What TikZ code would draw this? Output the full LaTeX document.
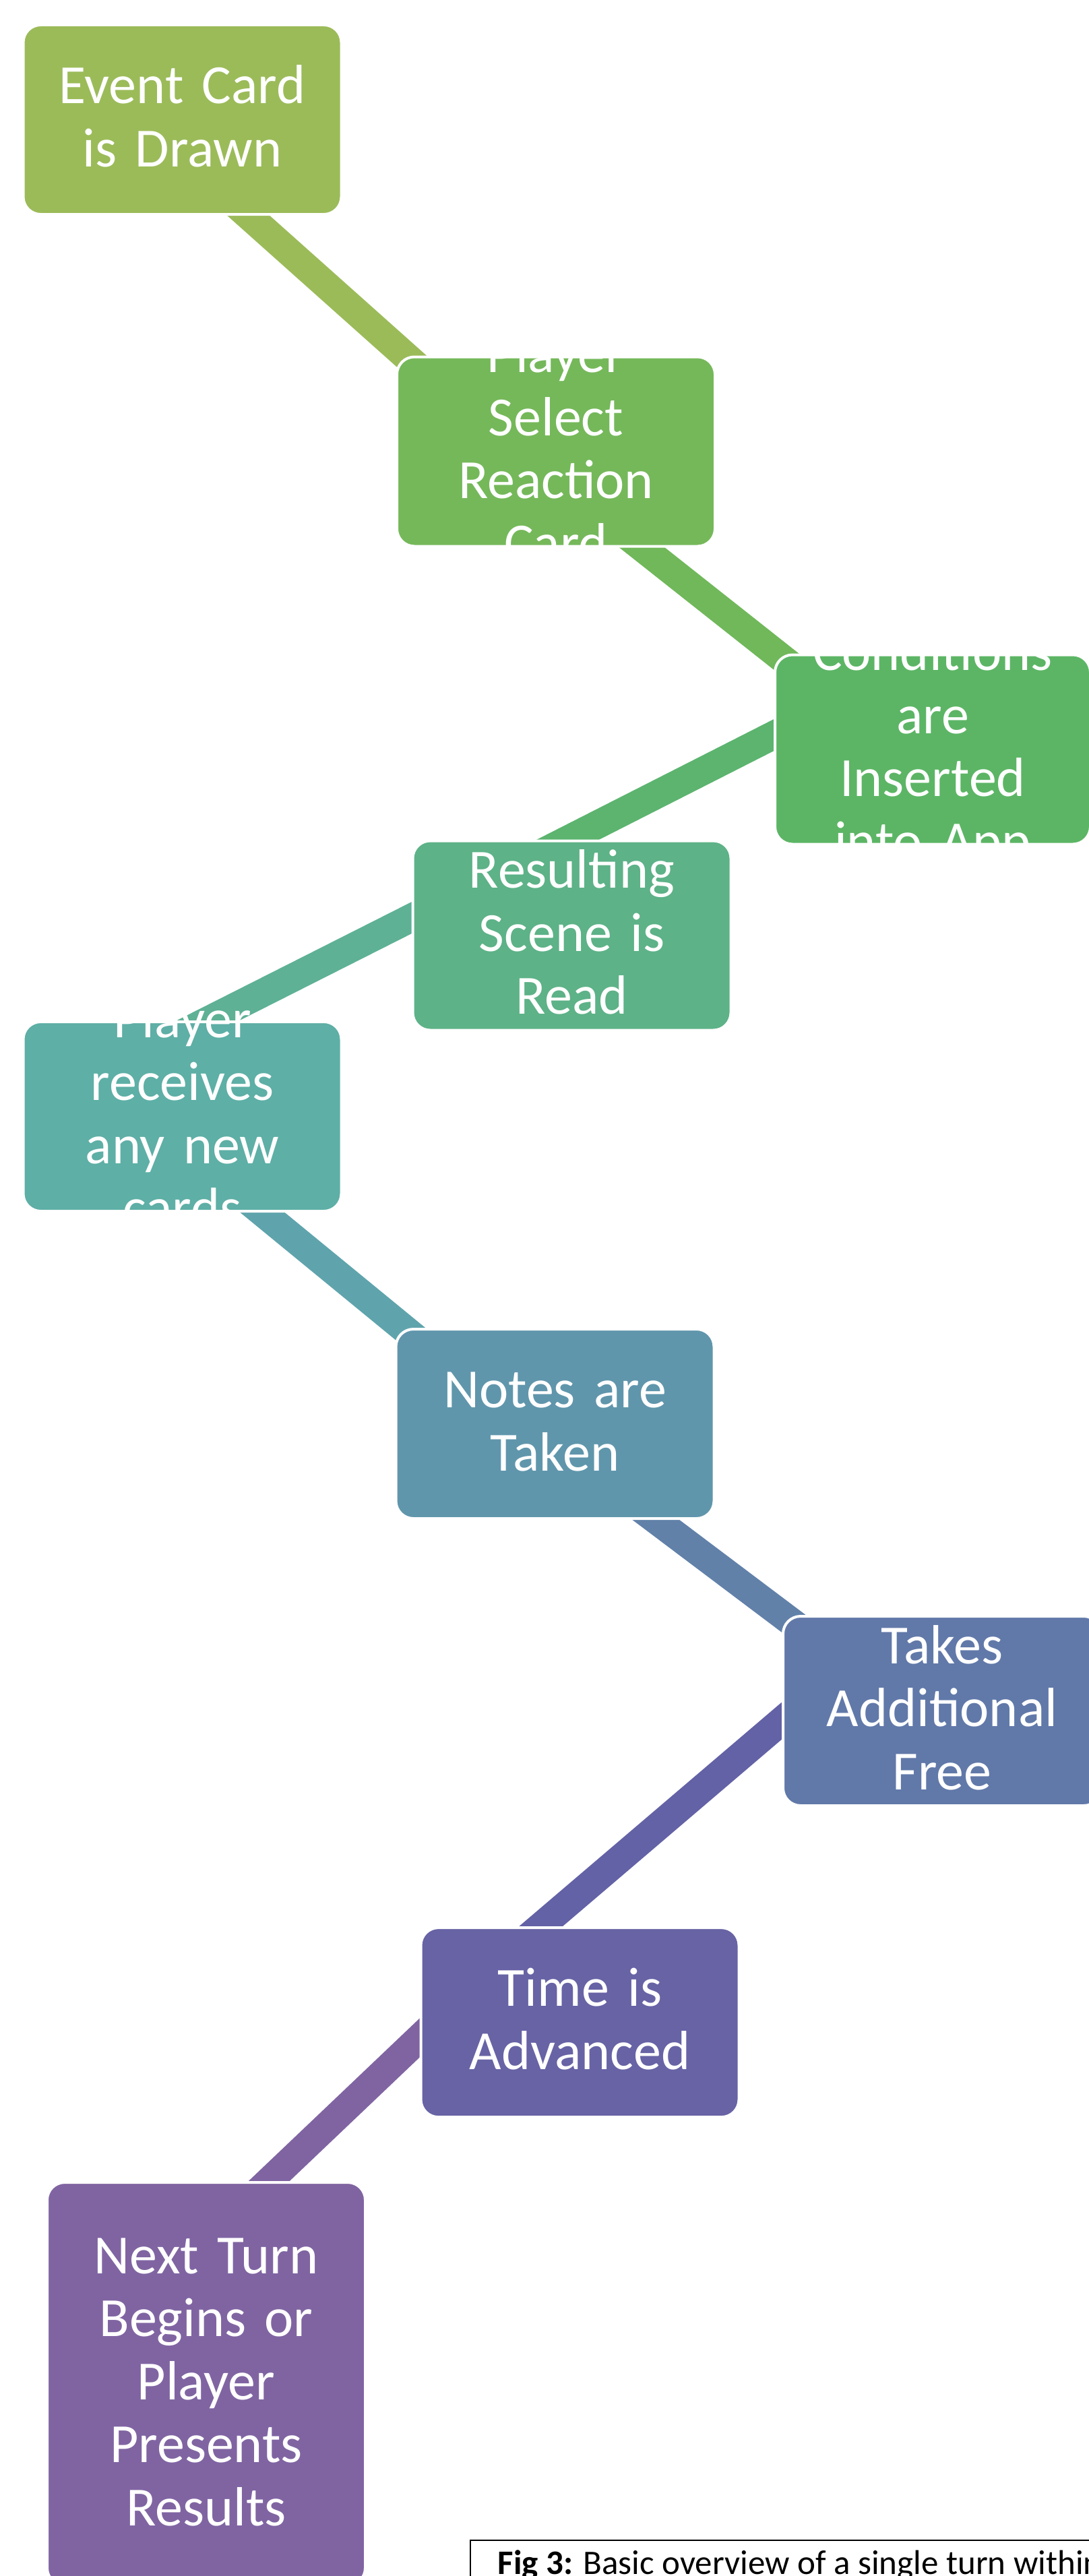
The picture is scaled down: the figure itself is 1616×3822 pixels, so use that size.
\documentclass[tikz,border=0pt]{standalone}
\usepackage{fontspec}
\setmainfont{Carlito}
\usetikzlibrary{backgrounds}
\definecolor{b1}{HTML}{9BBB59}
\definecolor{b2}{HTML}{75B85A}
\definecolor{b3}{HTML}{5CB565}
\definecolor{b4}{HTML}{5DB287}
\definecolor{b5}{HTML}{5EAFA6}
\definecolor{b6}{HTML}{6096AC}
\definecolor{b7}{HTML}{6179A9}
\definecolor{b8}{HTML}{6763A5}
\definecolor{b9}{HTML}{8064A2}
\definecolor{k2}{HTML}{70B85A}
\definecolor{k3}{HTML}{5CB46F}
\definecolor{k4}{HTML}{5EB195}
\definecolor{k5}{HTML}{5FA4AD}
\definecolor{k6}{HTML}{6181A9}
\definecolor{k7}{HTML}{6362A6}
\begin{document}
\begin{tikzpicture}[x=1pt,y=-1pt,
  stepbox/.style={draw=white, line width=4pt, rounded corners=26pt, inner sep=0pt,
    minimum width=472pt, minimum height=281pt, text width=440pt, align=center,
    text=white, font=\fontsize{82}{93.5}\selectfont, text height=0pt},
  link/.style={line width=42pt}]
\useasboundingbox (0,0) rectangle (1616,3822);
\clip (0,0) rectangle (1616,3822);
% boxes
\node[stepbox, fill=b1, text depth=47.5pt] (n1) at (270.5,177.5) {Event Card\\is Drawn};
\node[stepbox, fill=b2, text depth=234.5pt] (n2) at (825,670) {Player\\Select\\Reaction\\Card};
\node[stepbox, fill=b3, minimum width=468pt, text depth=234.5pt] (n3) at (1384,1112) {Conditions\\are\\Inserted\\into App};
\node[stepbox, fill=b4, text depth=141pt] (n4) at (848.5,1388) {Resulting\\Scene is\\Read};
\node[stepbox, fill=b5, text depth=234.5pt] (n5) at (270.5,1656.5) {Player\\receives\\any new\\cards};
\node[stepbox, fill=b6, text depth=47.5pt] (n6) at (823.5,2112.5) {Notes are\\Taken};
\node[stepbox, fill=b7, text depth=141pt] (n7) at (1398,2538.5) {Takes\\Additional\\Free};
\node[stepbox, fill=b8, text depth=47.5pt] (n8) at (860.5,3000.6) {Time is\\Advanced};
\node[stepbox, fill=b9, minimum height=598pt, text depth=328pt] (n9) at (306,3537) {Next Turn\\Begins or\\Player\\Presents\\Results};
% caption
\draw[line width=2pt] (698,3769) rectangle (1650,3870);
\node[anchor=base west, inner sep=0pt, font=\fontsize{51}{60}\selectfont] (cap) at (738.5,3819.5) {\textbf{Fig 3:} Basic overview of a single turn within};
% connectors behind the boxes
\begin{scope}[on background layer]
\fill[white] (0,0) rectangle (1616,3822);
\draw[link, b1] ([shift={(19.9,72.5)}]n1.center) -- ([shift={(-120,-50)}]n2.center);
\draw[link, k2] ([shift={(61.5,90)}]n2.center) -- ([shift={(-156,-82)}]n3.center);
\draw[link, k3] ([shift={(-184,-47.7)}]n3.center) -- ([shift={(-112.5,-88)}]n4.center);
\draw[link, k4] ([shift={(-168.5,-61.3)}]n4.center) -- ([shift={(-92.2,-76.5)}]n5.center);
\draw[link, k5] ([shift={(47.1,83.5)}]n5.center) -- ([shift={(-140.1,-72.5)}]n6.center);
\draw[link, k6] ([shift={(76.8,87.5)}]n6.center) -- ([shift={(-139.1,-68.5)}]n7.center);
\draw[link, k7] ([shift={(-178,-36.5)}]n7.center) -- ([shift={(-130.5,-80.6)}]n8.center);
\draw[link, b9] ([shift={(-180.5,-31.6)}]n8.center) -- ([shift={(26,-237)}]n9.center);
\end{scope}
\end{tikzpicture}
\end{document}
